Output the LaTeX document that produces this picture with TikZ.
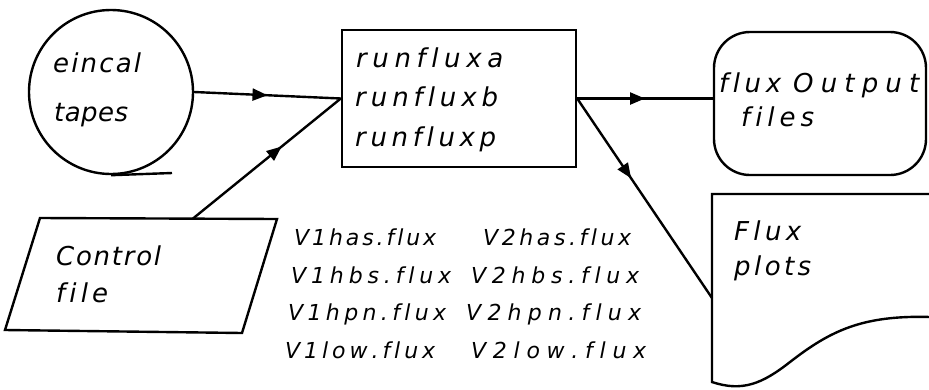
\documentclass[tikz,border=0pt]{standalone}
\usepackage{fontspec}
\newfontfamily\hand{DejaVu Sans}
\usetikzlibrary{arrows.meta,decorations.markings}
\makeatletter
\def\so@end{}
\def\spaceout#1{\so@a#1\so@end}
\def\so@a#1{#1\futurelet\so@next\so@b}
\def\so@b{\ifx\so@next\so@end\expandafter\@gobble\else\hfil\expandafter\so@a\fi}
\makeatother
\newcommand\sow[2]{\makebox[#1pt][s]{\spaceout{#2}}}
\begin{document}
\begin{tikzpicture}[x=1pt,y=-1pt,
  line width=2.4pt,
  shp/.style={draw, line width=2.4pt, inner sep=0pt},
  hw/.style={font=\hand\itshape\fontsize{26}{30}\selectfont, inner sep=0pt, anchor=base west},
  lst/.style={font=\hand\itshape\fontsize{22}{26}\selectfont, inner sep=0pt, anchor=base west},
  flow/.style={line width=2.4pt, postaction={decorate},
    decoration={markings, mark=at position #1 with {\arrow{Triangle[length=15pt,width=12pt]}}}}
]
\useasboundingbox (0,0) rectangle (929,389);
% tape
\node[shp, circle, minimum size=164pt] (tape) at (111,92) {};
\coordinate (tapeend) at (172,173);
\draw (tape.south) -- (tapeend);
\node[hw] (t1) at (52,72) {\sow{88}{eincal}};
\node[hw] (t2) at (53,121) {\sow{74}{tapes}};
% run box
\node[shp, minimum width=234pt, minimum height=137pt] (run) at (459,98.5) {};
\node[hw] (r1) at (355,67) {\sow{147}{runfluxa}};
\node[hw] (r2) at (354,106) {\sow{143}{runfluxb}};
\node[hw] (r3) at (354,146) {\sow{141}{runfluxp}};
% output files
\node[shp, rounded corners=36pt, minimum width=212pt, minimum height=143pt] (out) at (820,103.5) {};
\node[hw] (o1) at (718,92) {\sow{62}{flux}\hspace{12pt}\sow{126}{Output}};
\node[hw] (o2) at (740,126) {\sow{73}{files}};
% control file
\coordinate (c1) at (40,218);
\coordinate (c2) at (277,219);
\coordinate (c3) at (242,333);
\coordinate (c4) at (5,330);
\coordinate (ctop) at (193,218.5);
\draw (c1) -- (c2) -- (c3) -- (c4) -- cycle;
\node[hw] (k1) at (55,265) {\sow{105}{Control}};
\node[hw] (k2) at (55,302) {\sow{52}{file}};
% plots document
\coordinate (d1) at (930,194);
\coordinate (d2) at (712,194);
\coordinate (d3) at (712,382);
\coordinate (d4) at (930,317);
\coordinate (din) at (712,298);
\draw (d1) -- (d2) -- (d3) .. controls (742,392) and (762,384) .. (790,362)
      .. controls (830,331) and (862,315) .. (d4);
\node[hw] (p1) at (733,240) {\sow{67}{Flux}};
\node[hw] (p2) at (733,275) {\sow{77}{plots}};
% file lists
\node[lst] (la) at (293,245) {\sow{142}{V1has.flux}};
\node[lst] (lb) at (290,283) {\sow{160}{V1hbs.flux}};
\node[lst] (lc) at (287,320) {\sow{158}{V1hpn.flux}};
\node[lst] (ld) at (284,358) {\sow{150}{V1low.flux}};
\node[lst] (ma) at (482,245) {\sow{148}{V2has.flux}};
\node[lst] (mb) at (470,283) {\sow{168}{V2hbs.flux}};
\node[lst] (mc) at (465,320) {\sow{175}{V2hpn.flux}};
\node[lst] (md) at (470,358) {\sow{175}{V2low.flux}};
% connectors
\draw[flow=0.5] (tape.east) -- (run.west);
\draw[flow=0.6] (ctop) -- (run.west);
\draw[flow=0.5] (run.east) -- (out.west |- run.east);
\draw[flow=0.4] (run.east) -- (din);
\end{tikzpicture}
\end{document}
